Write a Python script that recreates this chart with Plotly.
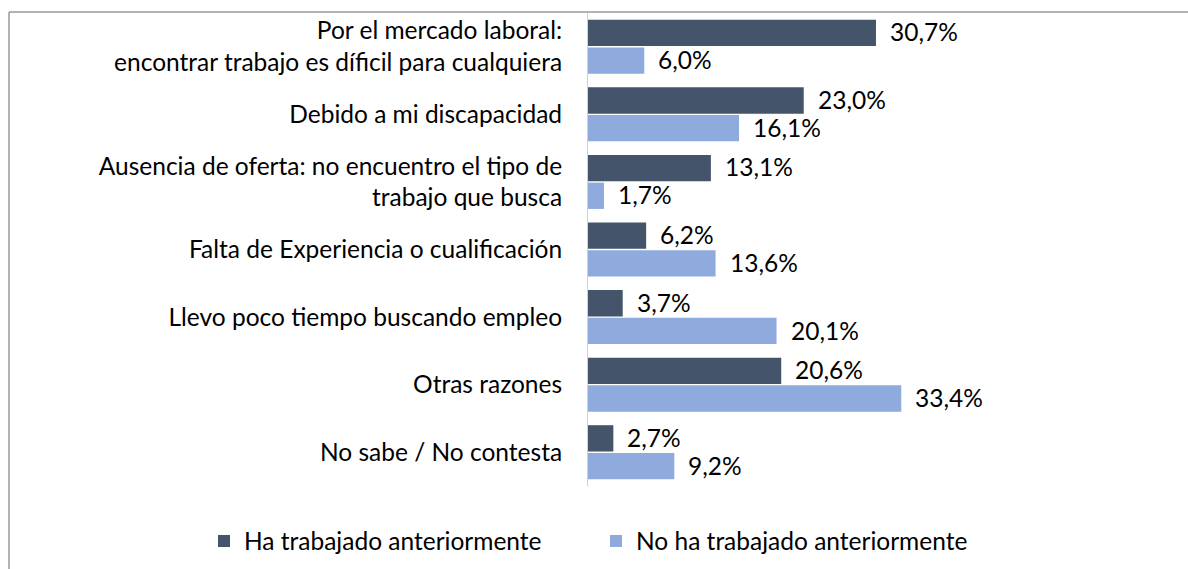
import plotly.graph_objects as go

categories = [
    "Por el mercado laboral:<br>encontrar trabajo es díficil para cualquiera",
    "Debido a mi discapacidad",
    "Ausencia de oferta: no encuentro el tipo de<br>trabajo que busca",
    "Falta de Experiencia o cualificación",
    "Llevo poco tiempo buscando empleo",
    "Otras razones",
    "No sabe / No contesta",
]
ha_trabajado = [30.7, 23.0, 13.1, 6.2, 3.7, 20.6, 2.7]
no_ha_trabajado = [6.0, 16.1, 1.7, 13.6, 20.1, 33.4, 9.2]
series_names = ["Ha trabajado anteriormente", "No ha trabajado anteriormente"]
colors = ["#44546a", "#8faadc"]

FONT = "Lato"
FS = 24.5

def fmt(v):
    return f"{v:.1f}".replace(".", ",") + "%"

fig = go.Figure()
for name, vals, col in zip(series_names, [ha_trabajado, no_ha_trabajado], colors):
    fig.add_trace(go.Bar(
        y=categories, x=vals, name=name, orientation="h",
        marker=dict(color=col, line=dict(width=0)),
        hoverinfo="skip",
    ))

annotations = []
for vals, shift in [(ha_trabajado, 14), (no_ha_trabajado, -14)]:
    for c, v in zip(categories, vals):
        annotations.append(dict(
            x=v, y=c, xref="x", yref="y", text=fmt(v), showarrow=False,
            xanchor="left", yanchor="middle", xshift=12, yshift=shift + 1,
            font=dict(family=FONT, size=FS, color="#000000"),
        ))

W, H = 1188, 569
L, R, T, B = 588, 0, 13, 83
pw, ph = W - L - R, H - T - B

fig.update_layout(
    width=W, height=H,
    margin=dict(l=L, r=R, t=T, b=B, pad=0),
    paper_bgcolor="white", plot_bgcolor="white",
    barmode="group", bargap=0.18, bargroupgap=0.05,
    font=dict(family=FONT, size=FS, color="#000000"),
    xaxis=dict(range=[0, pw / 9.38], showgrid=False, zeroline=False,
               showticklabels=False, showline=False, fixedrange=True),
    yaxis=dict(autorange="reversed", showgrid=False, zeroline=False,
               showline=True, linecolor="#d0d0d0", linewidth=1,
               ticks="", ticklabelstandoff=20,
               tickfont=dict(family=FONT, size=FS, color="#000000")),
    legend=dict(orientation="h", x=(204 - L) / pw, xanchor="left",
                y=-(541 - (T + ph)) / ph, yanchor="middle",
                font=dict(family=FONT, size=FS, color="#000000"),
                entrywidth=347, entrywidthmode="pixels",
                itemsizing="constant", traceorder="normal"),
    annotations=annotations,
    shapes=[
        dict(type="line", xref="paper", yref="paper",
             x0=-(L - 9) / pw, x1=1.0, y0=1 + (T - 12) / ph, y1=1 + (T - 12) / ph,
             line=dict(color="#9a9a9a", width=1.5)),
        dict(type="line", xref="paper", yref="paper",
             x0=-(L - 9) / pw, x1=-(L - 9) / pw, y0=1 + (T - 12) / ph, y1=-(H - T - ph) / ph - 0.01,
             line=dict(color="#9a9a9a", width=1.5)),
    ],
)

fig.write_html("out.html")
